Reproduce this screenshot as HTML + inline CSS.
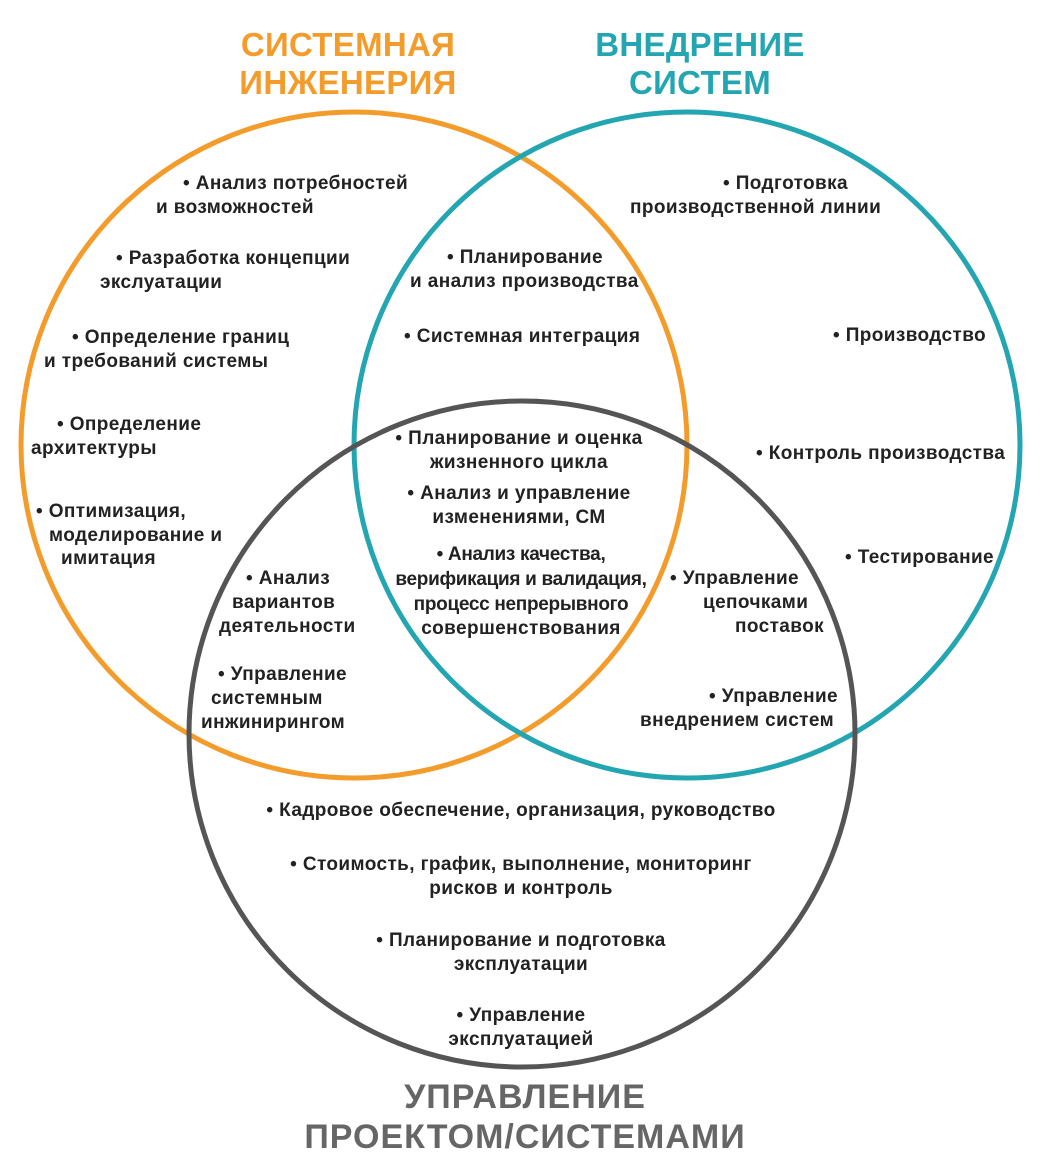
<!DOCTYPE html>
<html><head><meta charset="utf-8"><style>
html,body{margin:0;padding:0;background:#fff;width:1050px;height:1168px;overflow:hidden}
svg{display:block}
text{font-family:"Liberation Sans",sans-serif;font-weight:bold;fill:#222;font-size:19px;letter-spacing:0.4px}
.t{font-size:33px;letter-spacing:0.3px}
.m{text-anchor:middle}
</style></head><body>
<svg width="1050" height="1168" viewBox="0 0 1050 1168">
<circle cx="354" cy="445" r="333" fill="none" stroke="#F39C2C" stroke-width="5"/>
<circle cx="687" cy="445" r="333" fill="none" stroke="#23A6B1" stroke-width="5"/>
<circle cx="522" cy="734" r="333" fill="none" stroke="#555" stroke-width="5"/>

<text class="t m" x="348" y="56" style="fill:#F39C2C">СИСТЕМНАЯ</text>
<text class="t m" x="348" y="94" style="fill:#F39C2C">ИНЖЕНЕРИЯ</text>
<text class="t m" x="700" y="56" style="fill:#23A6B1">ВНЕДРЕНИЕ</text>
<text class="t m" x="700" y="94" style="fill:#23A6B1">СИСТЕМ</text>
<text class="t m" x="525" y="1108" style="fill:#666;font-size:34px;letter-spacing:1px">УПРАВЛЕНИЕ</text>
<text class="t m" x="525" y="1148" style="fill:#666;font-size:34px;letter-spacing:1px">ПРОЕКТОМ/СИСТЕМАМИ</text>

<text x="183" y="189">• Анализ потребностей</text>
<text x="156" y="213">и возможностей</text>
<text x="116" y="264">• Разработка концепции</text>
<text x="100" y="288">экслуатации</text>
<text x="72" y="343">• Определение границ</text>
<text x="44" y="367">и требований системы</text>
<text x="57" y="430">• Определение</text>
<text x="31" y="454">архитектуры</text>
<text x="36" y="517">• Оптимизация,</text>
<text x="49" y="541">моделирование и</text>
<text x="61" y="564">имитация</text>

<text x="246" y="584">• Анализ</text>
<text x="232" y="608">вариантов</text>
<text x="219" y="632">деятельности</text>
<text x="218" y="680">• Управление</text>
<text x="211" y="704">системным</text>
<text x="201" y="728">инжинирингом</text>

<text x="447" y="263">• Планирование</text>
<text x="410" y="287">и анализ производства</text>
<text x="404" y="342">• Системная интеграция</text>

<text class="m" x="519" y="444">• Планирование и оценка</text>
<text class="m" x="519" y="468">жизненного цикла</text>
<text class="m" x="519" y="499">• Анализ и управление</text>
<text class="m" x="519" y="523">изменениями, СМ</text>
<text class="m" x="521" y="560" style="letter-spacing:-0.3px">• Анализ качества,</text>
<text class="m" x="521" y="585" style="letter-spacing:-0.3px">верификация и валидация,</text>
<text class="m" x="521" y="610" style="letter-spacing:-0.3px">процесс непрерывного</text>
<text class="m" x="521" y="634">совершенствования</text>

<text x="723" y="189">• Подготовка</text>
<text x="630" y="213">производственной линии</text>
<text x="833" y="341">• Производство</text>
<text x="756" y="459">• Контроль производства</text>
<text x="845" y="563">• Тестирование</text>

<text x="670" y="584">• Управление</text>
<text x="703" y="608">цепочками</text>
<text x="735" y="632">поставок</text>
<text x="709" y="702">• Управление</text>
<text x="640" y="726">внедрением систем</text>

<text class="m" x="521" y="816">• Кадровое обеспечение, организация, руководство</text>
<text class="m" x="521" y="870">• Стоимость, график, выполнение, мониторинг</text>
<text class="m" x="521" y="894">рисков и контроль</text>
<text class="m" x="521" y="946">• Планирование и подготовка</text>
<text class="m" x="521" y="970">эксплуатации</text>
<text class="m" x="521" y="1021">• Управление</text>
<text class="m" x="521" y="1045">эксплуатацией</text>
</svg>
</body></html>
